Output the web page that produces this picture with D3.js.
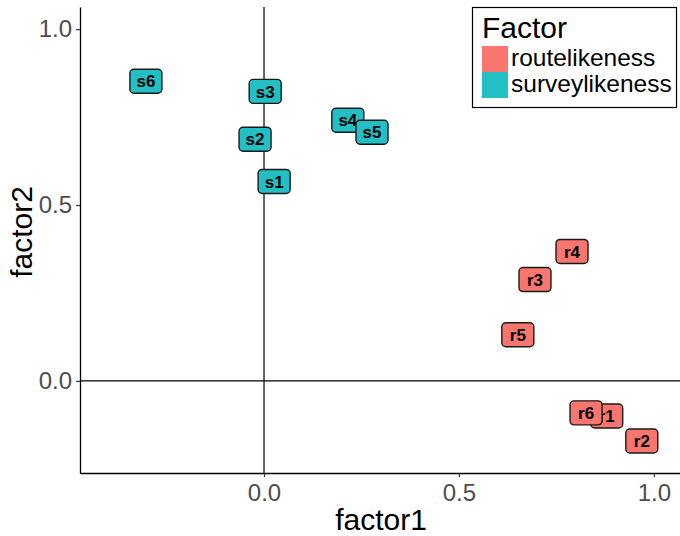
<!DOCTYPE html>
<html>
<head>
<meta charset="utf-8">
<script src="https://cdn.jsdelivr.net/npm/d3@7"></script>
<style>
  body { margin: 0; background: #fff; }
  svg { font-family: "Liberation Sans", Arial, Helvetica, sans-serif; }
</style>
</head>
<body>
<div id="chart"></div>
<script>
const labels = ['r1', 'r2', 'r3', 'r4', 'r5', 'r6', 's1', 's2', 's3', 's4', 's5', 's6'];
const factor1 = [0.879, 0.969, 0.695, 0.79, 0.651, 0.826, 0.026, -0.023, 0.003, 0.215, 0.277, -0.303];
const factor2 = [-0.1, -0.171, 0.288, 0.368, 0.131, -0.091, 0.567, 0.687, 0.823, 0.741, 0.707, 0.852];
const groups = ['routelikeness', 'routelikeness', 'routelikeness', 'routelikeness', 'routelikeness', 'routelikeness',
  'surveylikeness', 'surveylikeness', 'surveylikeness', 'surveylikeness', 'surveylikeness', 'surveylikeness'];
const factorNames = ['routelikeness', 'surveylikeness'];
const xTicks = [0, 0.5, 1];
const yTicks = [0, 0.5, 1];

const width = 680, height = 536;
const panelLeft = 80, panelRight = 680, panelTop = 7, panelBottom = 473;

const svg = d3.select('#chart').append('svg')
  .attr('width', width)
  .attr('height', height);

const x = d3.scaleLinear().domain([-0.472, 1.067]).range([panelLeft, panelRight]);
const y = d3.scaleLinear().domain([-0.262, 1.063]).range([panelBottom, panelTop]);

const color = d3.scaleOrdinal().domain(factorNames).range(['#F8766D', '#22BFC4']);

// reference lines at zero
svg.append('line')
  .attr('x1', x(0)).attr('x2', x(0))
  .attr('y1', panelTop).attr('y2', panelBottom)
  .attr('stroke', '#000').attr('stroke-width', 1.2);
svg.append('line')
  .attr('x1', panelLeft).attr('x2', panelRight)
  .attr('y1', y(0)).attr('y2', y(0))
  .attr('stroke', '#000').attr('stroke-width', 1.2);

// axes
const xAxis = svg.append('g')
  .attr('transform', `translate(0,${panelBottom})`)
  .call(d3.axisBottom(x).tickValues(xTicks).tickFormat(d3.format('.1f'))
    .tickSize(4).tickSizeOuter(0).tickPadding(7));
const yAxis = svg.append('g')
  .attr('transform', `translate(${panelLeft},0)`)
  .call(d3.axisLeft(y).tickValues(yTicks).tickFormat(d3.format('.1f'))
    .tickSize(4).tickSizeOuter(0).tickPadding(4));

[xAxis, yAxis].forEach(g => {
  g.select('.domain').attr('stroke', '#000').attr('stroke-width', 1.3);
  g.selectAll('.tick line').attr('stroke', '#333').attr('stroke-width', 1.2);
  g.selectAll('.tick text')
    .attr('fill', '#4D4D4D')
    .style('font-size', '24px')
    .style('font-family', '"Liberation Sans", Arial, sans-serif');
});

svg.append('text')
  .attr('x', 381).attr('y', 530)
  .attr('text-anchor', 'middle')
  .style('font-size', '30px')
  .text('factor1');
svg.append('text')
  .attr('transform', 'translate(32,232) rotate(-90)')
  .attr('text-anchor', 'middle')
  .style('font-size', '30px')
  .text('factor2');

// labels
const data = labels.map((l, i) => ({ label: l, f1: factor1[i], f2: factor2[i], group: groups[i] }));
const bw = 32, bh = 24;

const lbl = svg.selectAll('g.lbl')
  .data(data)
  .enter()
  .append('g')
  .attr('class', 'lbl')
  .attr('transform', d => `translate(${x(d.f1)},${y(d.f2)})`);

lbl.append('rect')
  .attr('x', -bw / 2).attr('y', -bh / 2)
  .attr('width', bw).attr('height', bh)
  .attr('rx', 4).attr('ry', 4)
  .attr('fill', d => color(d.group))
  .attr('stroke', '#1a1a1a')
  .attr('stroke-width', 1.4);

lbl.append('text')
  .attr('text-anchor', 'middle')
  .attr('dy', '0.36em')
  .style('font-size', '17px')
  .style('font-weight', 'bold')
  .attr('fill', '#000')
  .text(d => d.label);

// legend
const legend = svg.append('g');
legend.append('rect')
  .attr('x', 472.5).attr('y', 7.5)
  .attr('width', 204).attr('height', 100)
  .attr('fill', '#fff')
  .attr('stroke', '#000')
  .attr('stroke-width', 1.2);
legend.append('text')
  .attr('x', 482).attr('y', 38)
  .style('font-size', '30px')
  .text('Factor');

const item = legend.selectAll('g.item')
  .data(factorNames)
  .enter()
  .append('g')
  .attr('class', 'item')
  .attr('transform', (d, i) => `translate(482,${46 + i * 26})`);
item.append('rect')
  .attr('width', 26).attr('height', 26)
  .attr('fill', d => color(d));
item.append('text')
  .attr('x', 29).attr('y', 20)
  .style('font-size', '24.5px')
  .text(d => d);
</script>
</body>
</html>
